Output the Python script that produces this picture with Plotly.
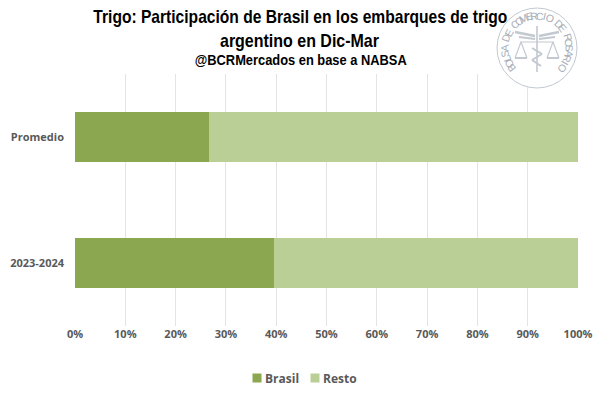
import math
import plotly.graph_objects as go

categories = ["2023-2024", "Promedio"]
brasil = [39.6, 26.6]
resto = [60.4, 73.4]
ticks = list(range(0, 101, 10))
ticktext = [f"{t}%" for t in ticks]
title_lines = ["Trigo: Participación de Brasil en los embarques de trigo",
               "argentino en Dic-Mar",
               "@BCRMercados en base a NABSA"]
seal_text = "BOLSA DE COMERCIO DE ROSARIO"
FONT = "Open Sans"
TITLE_FONT = "Liberation Sans"
W, H = 605, 395
L, R, T, B = 75, 27, 74, 69
SEAL = "#C3C9D0"

def pxx(x): return (x-L)/(W-L-R)
def pxy(y): return 1-(y-T)/(H-T-B)
def px(x, y): return dict(xref="paper", yref="paper", x=pxx(x), y=pxy(y), xanchor="center", yanchor="middle")

fig = go.Figure()
fig.add_bar(y=categories, x=brasil, name="Brasil", orientation="h", marker=dict(color="#8BA750", line_width=0), width=0.397)
fig.add_bar(y=categories, x=resto, name="Resto", orientation="h", marker=dict(color="#B9CF96", line_width=0), width=0.397)
fig.update_layout(
    width=W, height=H, barmode="stack", paper_bgcolor="white", plot_bgcolor="white", showlegend=True,
    margin=dict(l=L, r=R, t=T, b=B, autoexpand=False), font=dict(family=FONT, size=11, color="#595959"),
    legend=dict(orientation="h", x=pxx(225), xanchor="left", y=pxy(378), yanchor="middle", traceorder="normal",
                font=dict(size=12, weight="bold"), itemwidth=30, entrywidth=13, entrywidthmode="pixels"),
)
# Seal
cx, cy, r = 537, 48, 40
def circ(rad, **kw):
    fig.add_shape(type="circle", xref="paper", yref="paper", x0=pxx(cx-rad), x1=pxx(cx+rad), y0=pxy(cy+rad), y1=pxy(cy-rad), layer="above", **kw)
circ(r, line=dict(color=SEAL, width=1), fillcolor="white")
def seg(x0, y0, x1, y1, w=1.2):
    fig.add_shape(type="line", xref="paper", yref="paper", x0=pxx(cx+x0), x1=pxx(cx+x1), y0=pxy(cy+y0), y1=pxy(cy+y1), layer="above", line=dict(color=SEAL, width=w))
seg(0, -22, 0, 24, 1.6)
seg(-17, -6, 17, -6)
for s in (-1, 1):
    seg(s*2, -12, s*22, -16, 2.5)   # wings
    seg(s*2, -9, s*18, -11, 2)
    seg(s*16, -6, s*22, 10)
    seg(s*16, -6, s*10, 10)
    seg(s*10, 10, s*22, 10, 2)
seg(-5, 0, 5, 6, 2)
seg(5, 6, -5, 12, 2)
seg(-5, 12, 4, 18, 2)
n = len(seal_text)
for i, ch in enumerate(seal_text):
    theta = -128 + 256*i/(n-1)
    a = math.radians(theta)
    fig.add_annotation(text=ch, **px(cx+(r-7.5)*math.sin(a), cy-(r-7.5)*math.cos(a)), textangle=theta, showarrow=False,
                       font=dict(family="Liberation Sans", size=10.5, color="#A8AFB8"))
# Titles
for text, y, size in [(title_lines[0], 17, 19), (title_lines[1], 40, 19), (title_lines[2], 60, 15.5)]:
    fig.add_annotation(text=text, **px(300, y), showarrow=False,
                       font=dict(family=TITLE_FONT, size=size, color="#000000", weight="bold"))
fig.update_xaxes(range=[0, 100], tickvals=ticks, ticktext=ticktext, showgrid=True, gridcolor="#E4E4E4", gridwidth=1, zeroline=False,
                 tickfont=dict(size=11, weight="bold"), ticklen=15, tickcolor="rgba(0,0,0,0)")
fig.update_yaxes(range=[-0.5, 1.5], tickfont=dict(size=11, weight="bold"), ticks="", showline=False, ticklabelstandoff=10)
post = """
document.body.style.margin='0';
document.body.style.overflow='hidden';
var L={'Trigo:':414,'argent':159,'@BCRMe':212};
document.querySelectorAll('.annotation-text').forEach(function(t){
  var k=t.textContent.slice(0,6);
  if(L[k]){t.setAttribute('textLength',L[k]);t.setAttribute('lengthAdjust','spacingAndGlyphs');}
});
document.querySelectorAll('.legend .legendpoints path').forEach(function(p){
  p.setAttribute('d','M4.5,4.5H-4.5V-4.5H4.5Z');
  p.setAttribute('transform','translate(32,0)');
});
document.querySelectorAll('.legend .scrollbox').forEach(function(s){s.removeAttribute('clip-path');s.style.clipPath='none';});
document.querySelectorAll('.legend').forEach(function(s){s.removeAttribute('clip-path');s.style.clipPath='none';s.style.overflow='visible';});
"""
fig.write_html("out.html", post_script=post, config=dict(displayModeBar=False))
